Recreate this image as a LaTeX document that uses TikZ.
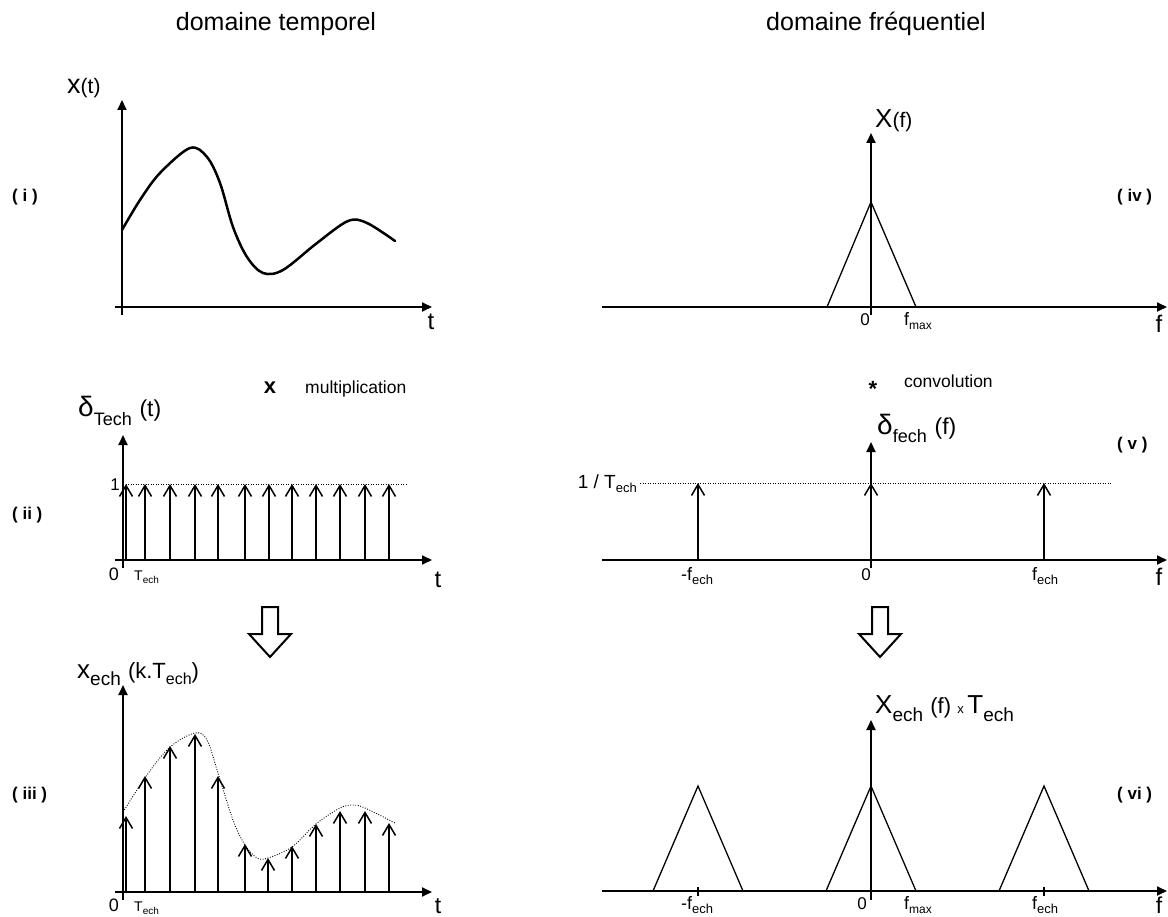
\documentclass[tikz,border=0pt]{standalone}
\usepackage{fontspec}
\setmainfont{Liberation Sans}
\usetikzlibrary{arrows.meta}
\newcommand\fsz[1]{\fontsize{#1}{#1}\selectfont}
\newcommand\lowr[3]{\raisebox{-#1pt}{\fsz{#2}#3}}
\tikzset{
  axis/.style={line width=1.8pt, -{Triangle[length=10pt,width=9pt]}},
  yline/.style={line width=1.8pt},
  imp/.style={line width=1.5pt, -{Straight Barb[length=11pt,width=13pt]}},
  spec/.style={line width=1.3pt, line join=miter},
  dots/.style={line width=0.9pt, dash pattern=on 0.9pt off 1.6pt},
  lbl/.style={inner sep=0pt, anchor=base},
  lblw/.style={inner sep=0pt, anchor=base west},
  lble/.style={inner sep=0pt, anchor=base east},
  tag/.style={inner sep=0pt, anchor=west, font=\fsz{17}\bfseries},
  blk/.style={line width=2pt, line join=miter, fill=white},
}
\begin{document}
\begin{tikzpicture}[x=1pt,y=-1pt]
\useasboundingbox (0,0) rectangle (1168,917);
% titles
\node[lbl] (ttl1) at (276,31) {\fsz{25}domaine temporel};
\node[lbl] (ttl2) at (876,31) {\fsz{25}domaine fréquentiel};
% tags
\node[tag] (ti) at (12,197) {( i )};
\node[tag] (tii) at (12,515) {( ii )};
\node[tag] (tiii) at (12,795) {( iii )};
\node[tag] (tiv) at (1117,197) {( iv )};
\node[tag] (tv) at (1117,445) {( v )};
\node[tag] (tvi) at (1117,795) {( vi )};

% ===== panel (i)
\draw[axis] (115,307) -- (432,307);
\draw[axis] (122,315) -- (122,100);
\node[lblw] (lxt) at (67,94) {\fsz{27}x\fsz{21}(t)};
\node[lbl] (lt1) at (431,330) {\fsz{24}t};
\draw[line width=2.5pt, line cap=round] plot[smooth, tension=0.55] coordinates {(122,230) (140,200) (160,173) (190,148) (207,157) (220,183) (233,227) (247,257) (263,273) (283,270) (317,243) (348,221) (367,223) (395,241)};

% ===== multiplication
\node[lbl] (mx) at (270,394) {\fsz{22}\bfseries x};
\node[lblw] (mtxt) at (305,394) {\fsz{17.5}multiplication};

% ===== panel (ii)
\draw[axis] (115,560) -- (432,560);
\draw[axis] (123,568) -- (123,435);
\draw[dots] (123,484) -- (407,484);
\foreach \x in {126,145,170,195,218,245,269,292,316,340,365,389}
  \draw[imp] (\x,560) -- (\x,484);
\node[lblw] (ldelta) at (78,417) {\fsz{28}δ\lowr{9}{18}{Tech} \fsz{23}(t)};
\node[lbl] (lone) at (115,490) {\fsz{17}1};
\node[lbl] (lz2) at (114,580) {\fsz{18}0};
\node[lblw] (lT2) at (134,580) {\fsz{14}T\lowr{3}{10}{ech}};
\node[lbl] (lt2) at (438,587) {\fsz{24}t};

% ===== block arrows
\draw[blk] (262,607) -- (278,607) -- (278,634) -- (291,634) -- (270,657) -- (249,634) -- (262,634) -- cycle;
\draw[blk] (872,607) -- (888,607) -- (888,634) -- (901,634) -- (880,657) -- (859,634) -- (872,634) -- cycle;

% ===== panel (iii)
\draw[axis] (115,892) -- (432,892);
\draw[axis] (123,900) -- (123,685);
\draw[dots] plot[smooth, tension=0.55] coordinates {(123,812) (147,775) (170,747) (195,733) (207,740) (218,773) (233,820) (245,845) (257,858) (268,858) (292,847) (316,824) (340,808) (353,805) (365,808) (395,823)};
\foreach \x/\y in {126/816,145/776,170/746,195/734,218/776,245/844,268/858,292/846,316/824,340/811,365/811,389/823}
  \draw[imp] (\x,892) -- (\x,\y);
\node[lblw] (lxech) at (77,678) {\fsz{26}x\lowr{7}{19}{ech} \fsz{22}(k.T\lowr{6}{16}{ech})};
\node[lbl] (lz3) at (114,911) {\fsz{18}0};
\node[lblw] (lT3) at (134,911) {\fsz{14}T\lowr{3}{10}{ech}};
\node[lbl] (lt3) at (438,913) {\fsz{23}t};

% ===== panel (iv)
\draw[axis] (602,307) -- (1167,307);
\draw[axis] (871,315) -- (871,133);
\draw[spec] (827,307) -- (871,202) -- (916,307);
\node[lblw] (lXf) at (875,128) {\fsz{26}X\fsz{21}(f)};
\node[lbl] (lz4) at (865,326) {\fsz{17}0};
\node[lblw] (lfm4) at (904,326) {\fsz{18}f\lowr{4}{12}{max}};
\node[lbl] (lf4) at (1159,333) {\fsz{24}f};

% ===== convolution
\node[lbl] (cstar) at (873,397) {\fsz{22}\bfseries *};
\node[lblw] (ctxt) at (904,388) {\fsz{17.5}convolution};

% ===== panel (v)
\draw[axis] (602,560) -- (1167,560);
\draw[axis] (871,568) -- (871,442);
\draw[dots] (640,483) -- (1112,483);
\foreach \x in {698,871,1044}
  \draw[imp] (\x,560) -- (\x,483);
\node[lblw] (ldf) at (877,435) {\fsz{28}δ\lowr{8}{18}{fech} \fsz{23}(f)};
\node[lble] (linv) at (637,488) {\fsz{19}1 / T\lowr{4}{13}{ech}};
\node[lbl] (lmf5) at (697,580) {\fsz{18}-f\lowr{4}{13}{ech}};
\node[lbl] (lz5) at (866,580) {\fsz{17}0};
\node[lbl] (lpf5) at (1045,580) {\fsz{18}f\lowr{4}{13}{ech}};
\node[lbl] (lf5) at (1159,585) {\fsz{24}f};

% ===== panel (vi)
\draw[axis] (602,891) -- (1167,891);
\draw[axis] (871,900) -- (871,720);
\draw[line width=1.3pt] (698,887) -- (698,896);
\draw[line width=1.3pt] (1044,887) -- (1044,896);
\draw[spec] (653,891) -- (698,786) -- (743,891);
\draw[spec] (826,891) -- (871,786) -- (916,891);
\draw[spec] (999,891) -- (1044,786) -- (1089,891);
\node[lblw] (lXech) at (875,713) {\fsz{26}X\lowr{8}{19}{ech} \fsz{22}(f) \fsz{13}x \fsz{26}T\lowr{8}{19}{ech}};
\node[lbl] (lmf6) at (697,909) {\fsz{18}-f\lowr{4}{13}{ech}};
\node[lbl] (lz6) at (862,909) {\fsz{17}0};
\node[lblw] (lfm6) at (904,909) {\fsz{18}f\lowr{4}{12}{max}};
\node[lbl] (lpf6) at (1045,909) {\fsz{18}f\lowr{4}{13}{ech}};
\node[lbl] (lf6) at (1159,913) {\fsz{23}f};
\end{tikzpicture}
\end{document}
